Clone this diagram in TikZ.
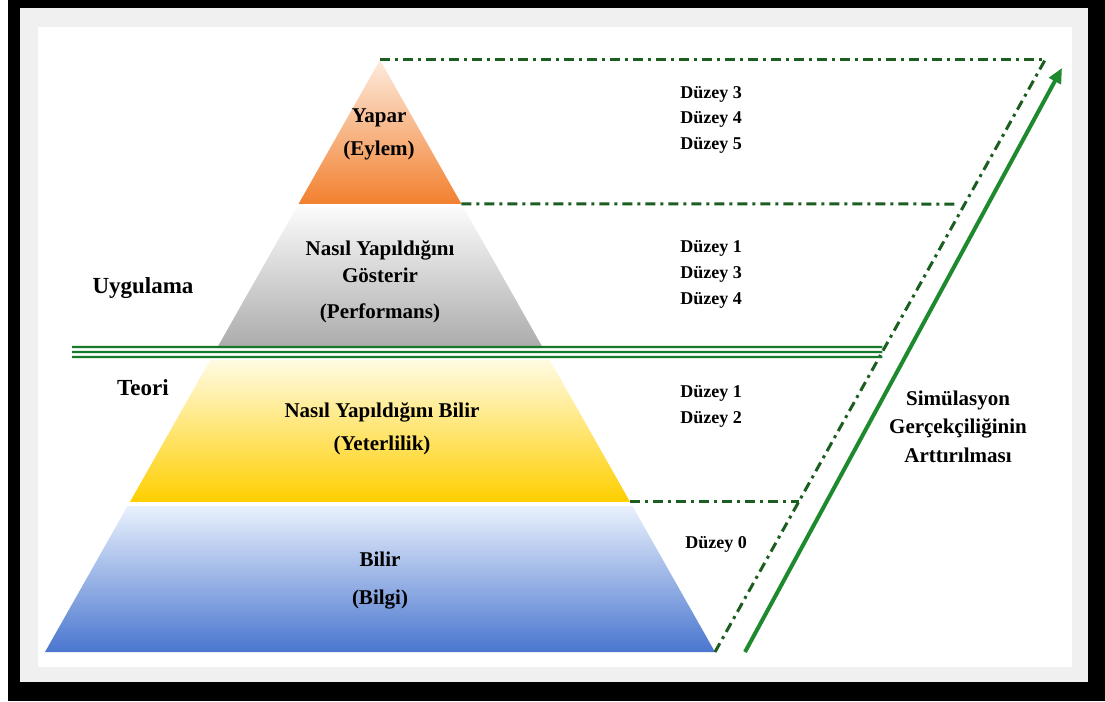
\documentclass[tikz,border=0pt]{standalone}
\usepackage{fontspec}
\setmainfont{Liberation Serif}
\usetikzlibrary{calc,arrows.meta}

\definecolor{framegray}{HTML}{F0F0F0}
\definecolor{linegreen}{HTML}{1B5E20}
\definecolor{arrowgreen}{HTML}{1E8A2E}
\definecolor{splitgreen}{HTML}{18782A}
\definecolor{orangetop}{HTML}{FDEBDD}
\definecolor{orangebot}{HTML}{F2802F}
\definecolor{graytop}{HTML}{FBFBFB}
\definecolor{graybot}{HTML}{ABABAB}
\definecolor{yellowtop}{HTML}{FFFBE3}
\definecolor{yellowbot}{HTML}{FFCF00}
\definecolor{bluetop}{HTML}{E9F1FD}
\definecolor{bluebot}{HTML}{4A76CF}

\tikzstyle{every node}=[inner sep=0pt, anchor=base, text=black]
\tikzstyle{pyrtext}=[font={\fontsize{21}{25}\selectfont\bfseries}]
\tikzstyle{leveltext}=[font={\fontsize{18}{22}\selectfont\bfseries}]
\tikzstyle{sidetext}=[font={\fontsize{23}{27}\selectfont\bfseries}]
\tikzstyle{simtext}=[font={\fontsize{21}{25}\selectfont\bfseries}]
\tikzstyle{levelline}=[linegreen, line width=3pt, dash pattern=on 10pt off 5pt on 3pt off 5pt]
\tikzstyle{splitline}=[splitgreen, line width=2.2pt]

% one band of the pyramid, between two fractions of its height
\newcommand{\pyrlayer}[4]{%
  \shade[top color=#3, bottom color=#4]
    ($(apex)!#1!(bl)$) -- ($(apex)!#2!(bl)$) -- ($(apex)!#2!(br)$) -- ($(apex)!#1!(br)$) -- cycle;}

\begin{document}
\begin{tikzpicture}[x=1pt,y=-1pt]
    \useasboundingbox (0,0) rectangle (1105,701);
    % frame
    \fill[black] (8,0) rectangle (1105,701);
    \fill[framegray] (20,8) rectangle (1088,682);
    \fill[white] (38,27) rectangle (1072,667);

    \coordinate (apex) at (380,60);
    \coordinate (bl) at (45,652);
    \coordinate (br) at (715,652);

    % pyramid bands
    \pyrlayer{0}{0.2432}{orangetop}{orangebot}
    \pyrlayer{0.2483}{0.4865}{graytop}{graybot}
    \pyrlayer{0.5068}{0.7466}{yellowtop}{yellowbot}
    \pyrlayer{0.7534}{1}{bluetop}{bluebot}

    % level lines
    \coordinate (topend) at (1045,60);
    \coordinate (l2) at ($(apex)!0.2432!(br)$);
    \coordinate (l2end) at (955,204);
    \coordinate (l3) at ($(apex)!0.7466!(br)$);
    \coordinate (l3end) at ($(br)!0.2534!(topend)$);
    \coordinate (splitend) at ($(br)!0.5068!(topend)$);
    \draw[levelline] (apex) -- (topend);
    \draw[levelline] (l2) -- (l2end);
    \draw[levelline] (l3) -- (l3end);
    \draw[levelline] (br) -- (topend);

    % theory / practice split
    \foreach \dy in {-5,0,5} {
        \draw[splitline] (72,352+\dy) -- ($(splitend)+(0,\dy)$);
    }

    % realism arrow
    \coordinate (arrstart) at (745,652);
    \coordinate (arrend) at (1062,68);
    \draw[arrowgreen, line width=4pt, -{Triangle[length=15pt,width=13pt]}] (arrstart) -- (arrend);

    % pyramid texts
    \node[pyrtext] (yapar) at (379,122) {Yapar};
    \node[pyrtext] (eylem) at (379,155) {(Eylem)};
    \node[pyrtext] (gost1) at (380,255) {Nasıl Yapıldığını};
    \node[pyrtext] (gost2) at (380,282) {Gösterir};
    \node[pyrtext] (perf) at (380,318) {(Performans)};
    \node[pyrtext] (bilir1) at (382,417) {Nasıl Yapıldığını Bilir};
    \node[pyrtext] (yeter) at (382,450) {(Yeterlilik)};
    \node[pyrtext] (bilir) at (380,566) {Bilir};
    \node[pyrtext] (bilgi) at (380,604) {(Bilgi)};

    % levels
    \foreach \lvl/\yy [count=\i] in {3/98,4/123,5/149,1/252,3/278,4/304,1/397,2/423} {
        \node[leveltext] (lvl\i) at (711,\yy) {Düzey \lvl};
    }
    \node[leveltext] (lvl0) at (716,548) {Düzey 0};

    % side labels
    \node[sidetext] (uyg) at (143,293) {Uygulama};
    \node[sidetext] (teori) at (143,395) {Teori};
    \node[simtext] (sim1) at (958,405) {Simülasyon};
    \node[simtext] (sim2) at (958,433) {Gerçekçiliğinin};
    \node[simtext] (sim3) at (958,462) {Arttırılması};
\end{tikzpicture}
\end{document}
